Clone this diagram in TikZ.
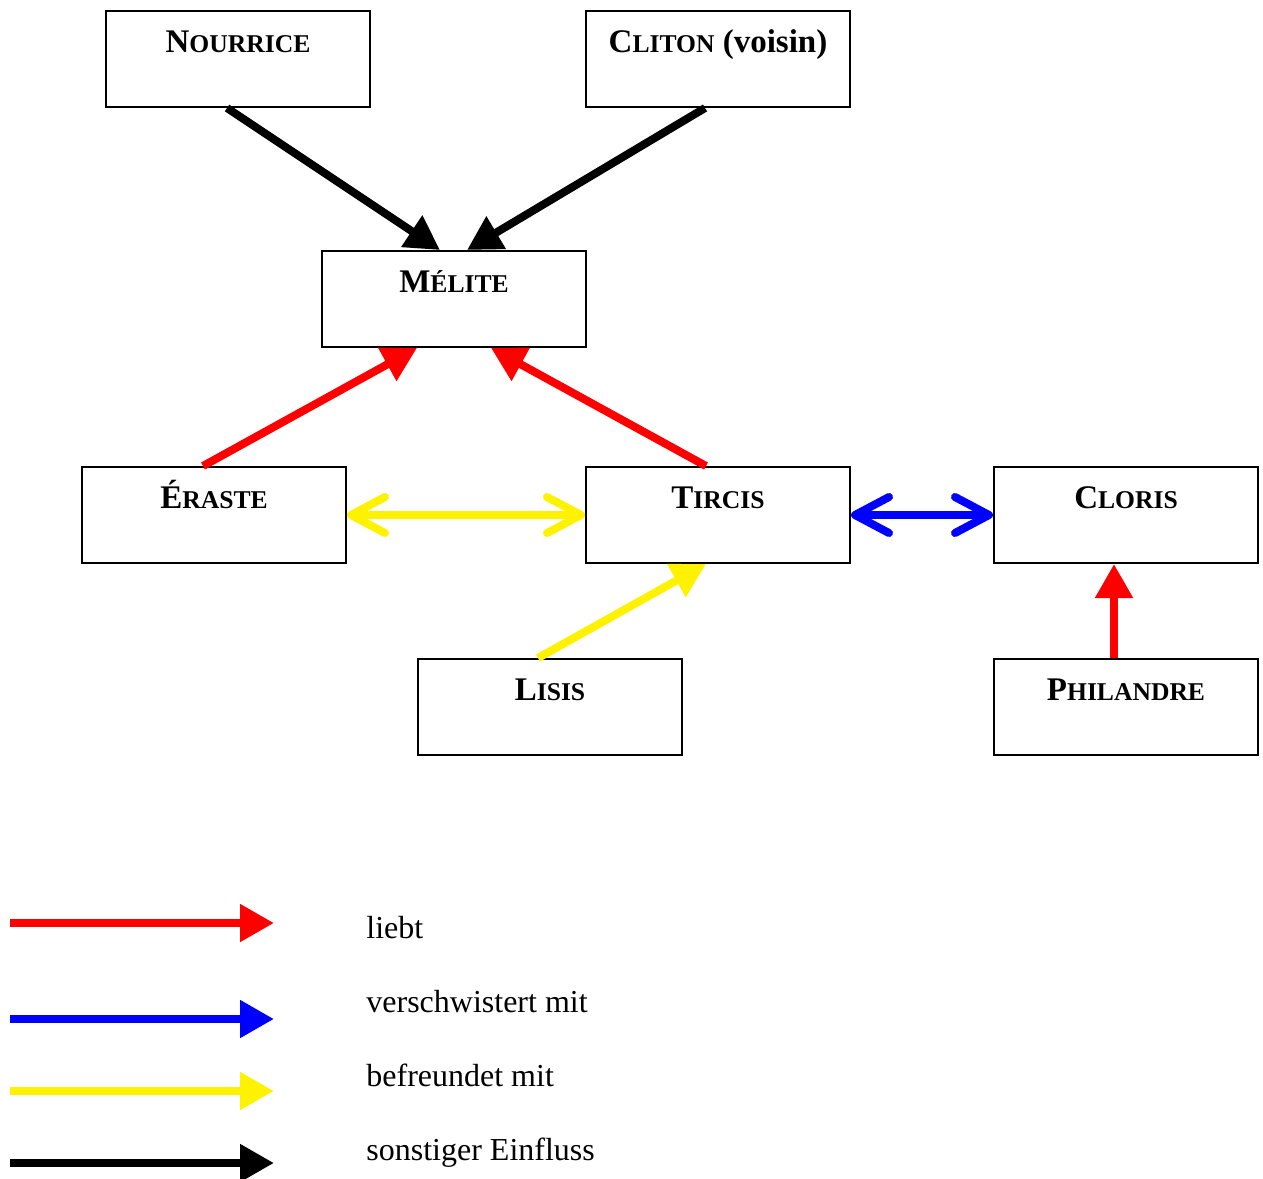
\documentclass[tikz,border=0pt]{standalone}
\usepackage{fontspec}
\setmainfont{Liberation Serif}
\usetikzlibrary{arrows.meta,positioning}

% small caps by hand: first letter big, rest smaller
\newcommand\kap[2]{#1{\fontsize{12.8pt}{14pt}\selectfont #2}}

\begin{document}
\begin{tikzpicture}[x=0.5pt,y=-0.5pt,
    person/.style={draw, line width=1pt, minimum width=132pt, inner xsep=0pt, inner ysep=0pt,
      text height=20.5pt, text depth=27.5pt, font=\fontsize{16.5pt}{18pt}\selectfont\bfseries},
    legend text/.style={font=\fontsize{16pt}{18pt}\selectfont, inner sep=0pt, anchor=base west},
    tip/.style={-{Triangle[length=17pt,width=18pt]}},
    barb/.style={{Straight Barb[length=17pt,width=18pt,round]}-{Straight Barb[length=17pt,width=18pt,round]}},
    liebt/.style={draw=red, line width=4pt, tip},
    geschw/.style={draw=blue, line width=4pt, line cap=round, barb},
    freund/.style={draw=yellow, line width=4pt, tip},
    freund both/.style={draw=yellow, line width=4pt, line cap=round, barb},
    sonst/.style={draw=black, line width=4pt, tip}]
  \useasboundingbox (0,0) rectangle (1263,1178);

  \node[person] (nourrice) at (238,59) {\kap{N}{OURRICE}};
  \node[person] (cliton) at (718,59) {\kap{C}{LITON} (voisin)};
  \node[person] (melite) at (454,299) {\kap{M}{ÉLITE}};
  \node[person] (eraste) at (214,515) {\kap{É}{RASTE}};
  \node[person] (tircis) at (718,515) {\kap{T}{IRCIS}};
  \node[person] (cloris) at (1126,515) {\kap{C}{LORIS}};
  \node[person] (lisis) at (550,707) {\kap{L}{ISIS}};
  \node[person] (philandre) at (1126,707) {\kap{P}{HILANDRE}};

  % relations
  \draw[sonst] ([xshift=-5.5pt]nourrice.south) -- ([xshift=-7pt]melite.north);
  \draw[sonst] ([xshift=-6.5pt]cliton.south) -- ([xshift=6.5pt]melite.north);
  \draw[liebt] ([xshift=-5.5pt]eraste.north) -- ([xshift=-18.5pt]melite.south);
  \draw[liebt] ([xshift=-6pt]tircis.north) -- ([xshift=18.5pt]melite.south);
  \draw[freund both] (eraste.east) -- (tircis.west);
  \draw[geschw] (tircis.east) -- (cloris.west);
  \draw[freund] ([xshift=-6pt]lisis.north) -- ([xshift=-6pt]tircis.south);
  \draw[liebt] ([xshift=-6pt]philandre.north) -- ([xshift=-6pt]cloris.south);

  % legend
  \coordinate (r0) at (10,923);  \coordinate (r1) at (274,923);
  \coordinate (b0) at (10,1019); \coordinate (b1) at (274,1019);
  \coordinate (y0) at (10,1091); \coordinate (y1) at (274,1091);
  \coordinate (k0) at (10,1163); \coordinate (k1) at (274,1163);
  \draw[liebt] (r0) -- (r1);
  \draw[draw=blue, line width=4pt, tip] (b0) -- (b1);
  \draw[freund] (y0) -- (y1);
  \draw[sonst] (k0) -- (k1);
  \node[legend text] (lliebt) at (366,938) {liebt};
  \node[legend text] (lgeschw) at (366,1012) {verschwistert mit};
  \node[legend text] (lfreund) at (366,1086) {befreundet mit};
  \node[legend text] (lsonst) at (366,1160) {sonstiger Einfluss};
\end{tikzpicture}
\end{document}
